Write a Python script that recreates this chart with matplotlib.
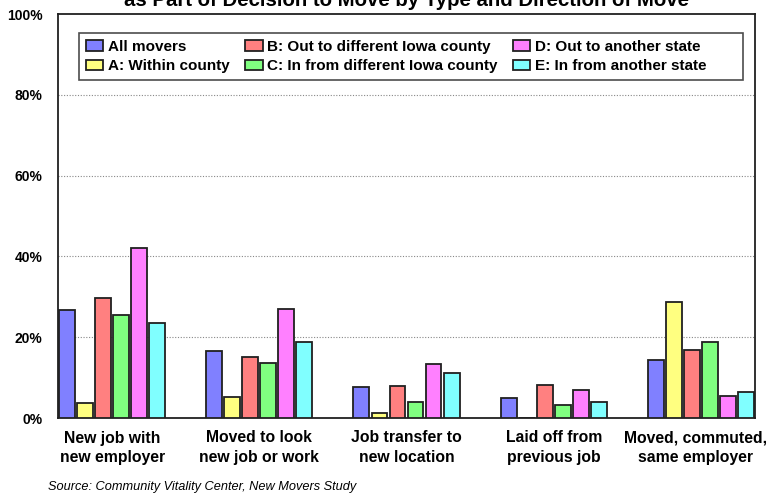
import matplotlib
matplotlib.use("Agg")
import matplotlib.pyplot as plt
import matplotlib.transforms as mtransforms
import numpy as np

plt.rcParams['font.family'] = ['Liberation Sans', 'DejaVu Sans']

categories = ["New job with\nnew employer", "Moved to look\nnew job or work",
              "Job transfer to\nnew location", "Laid off from\nprevious job",
              "Moved, commuted,\nsame employer"]
series_names = ["All movers", "A: Within county", "B: Out to different Iowa county",
                "C: In from different Iowa county", "D: Out to another state",
                "E: In from another state"]
all_movers = [26.8, 16.6, 7.7, 5.0, 14.4]
within_county = [3.7, 5.2, 1.2, 0.0, 28.8]
out_iowa_county = [29.8, 15.1, 7.9, 8.2, 16.9]
in_iowa_county = [25.6, 13.6, 4.0, 3.2, 18.9]
out_state = [42.2, 27.0, 13.4, 7.0, 5.5]
in_state = [23.6, 18.9, 11.2, 4.0, 6.5]
colors = ["#8080FF", "#FFFF80", "#FF8080", "#80FF80", "#FF80FF", "#80FFFF"]

series = [all_movers, within_county, out_iowa_county, in_iowa_county, out_state, in_state]

fig = plt.figure(figsize=(7.68, 4.96), dpi=100)
ax = fig.add_axes([58/768, 78/496, 697/768, 404/496])

x = np.arange(len(categories))
pitch = 0.1225
for i, vals in enumerate(series):
    ax.bar(x - 2.5*pitch + i*pitch, vals, width=0.108, color=colors[i],
           edgecolor="#202020", linewidth=1.3, label=series_names[i], zorder=3)

ax.set_xlim(-3*pitch, len(categories) - 1 + 3*pitch)
ax.set_ylim(0, 100)
ax.set_yticks([0, 20, 40, 60, 80, 100])
ax.set_yticklabels(["0%", "20%", "40%", "60%", "80%", "100%"], fontsize=10, fontweight="bold")
ax.set_xticks(x)
ax.set_xticklabels(categories, fontsize=11.3, fontweight="bold", linespacing=1.35)
ax.tick_params(axis="y", length=0, pad=11)
ax.tick_params(axis="x", length=0, pad=9)
# last label sits a little left of its group, as in the original
last = ax.get_xticklabels()[-1]
last.set_transform(last.get_transform() + mtransforms.ScaledTranslation(-0.05, 0, fig.dpi_scale_trans))

for yv in [20, 40, 60, 80]:
    ax.axhline(yv, color="#888888", linestyle=(0, (1, 1.5)), linewidth=0.8, zorder=1)
for s in ax.spines.values():
    s.set_color("#202020")
    s.set_linewidth(1.3)

pad = "\u00a0" * 7
labels = series_names[:4] + [n + pad for n in series_names[4:]]
handles, _ = ax.get_legend_handles_labels()
leg = ax.legend(handles, labels, ncol=3, loc="upper left", bbox_to_anchor=(0.030, 0.953),
                prop={"weight": "bold", "size": 11},
                frameon=True, fancybox=False, shadow=False, edgecolor="#202020",
                handlelength=1.15, handleheight=0.7, handletextpad=0.3,
                columnspacing=1.0, labelspacing=0.35, borderpad=0.45,
                borderaxespad=0)
leg.get_frame().set_linewidth(1.2)

fig.text(406/768, 1 - 6/496, "as Part of Decision to Move by Type and Direction of Move",
         ha="center", va="baseline", fontsize=14.7, fontweight="bold")
fig.text(48/768, 1 - 487/496, "Source: Community Vitality Center, New Movers Study",
         ha="left", va="center", fontsize=9.2, style="italic")

fig.savefig("out.png", dpi=100)
